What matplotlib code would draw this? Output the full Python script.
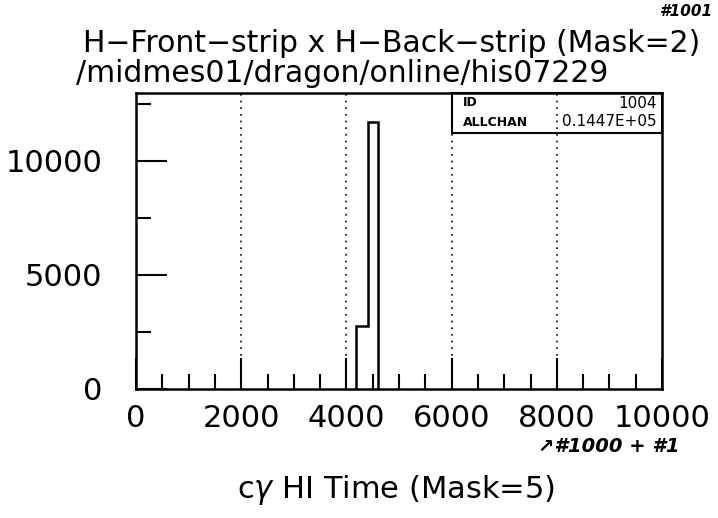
import matplotlib
matplotlib.use("Agg")
import matplotlib.pyplot as plt
from matplotlib.patches import Rectangle
from matplotlib.ticker import MultipleLocator

plt.rcParams.update({"font.family": "DejaVu Sans", "font.size": 22})

# histogram contents
bin_edges = [4180, 4410, 4600]
counts = [2750, 11700]
x_ticks = [0, 2000, 4000, 6000, 8000, 10000]
y_ticks = [0, 5000, 10000]
grid_x = [2000, 4000, 6000, 8000]
stats_rows = [("ID", "1004"), ("ALLCHAN", "0.1447E+05")]

fig = plt.figure(figsize=(7.18, 5.18), dpi=100)
ax = fig.add_axes([136 / 718, 1 - 389 / 518, 526 / 718, 296 / 518])

ax.stairs(counts, bin_edges, color="black", lw=1.8)
for gx in grid_x:
    ax.axvline(gx, color="black", lw=1.2, ls=(0, (1, 3)), zorder=0)

ax.set_xlim(0, 10000)
ax.set_ylim(0, 12970)
ax.set_xticks(x_ticks)
ax.set_yticks(y_ticks)
ax.xaxis.set_minor_locator(MultipleLocator(500))
ax.yaxis.set_minor_locator(MultipleLocator(2500))
ax.tick_params(which="both", direction="in", top=False, right=False, width=1.5)
ax.tick_params(which="major", length=22)
ax.tick_params(which="minor", length=11)
ax.tick_params(axis="y", which="major", pad=24)
ax.tick_params(axis="x", which="major", pad=11)
for sp in ax.spines.values():
    sp.set_linewidth(1.8)

# stats box, upper right
x0, y0 = (452 - 136) / 526, 1 - (133 - 93) / 296
ax.add_patch(Rectangle((x0, y0), 1 - x0, 1 - y0, transform=ax.transAxes,
                       fill=False, lw=1.5, clip_on=False))
for i, (k, v) in enumerate(stats_rows):
    yy = 1 - (10 + 19 * i) / 296
    ax.text(x0 + 0.02, yy, k, transform=ax.transAxes, fontsize=9,
            fontweight="bold", va="center", ha="left")
    ax.text(0.99, yy, v, transform=ax.transAxes, fontsize=11,
            va="center", ha="right")

fig.text(392 / 718, 1 - 52 / 518, "H\u2212Front\u2212strip x H\u2212Back\u2212strip (Mask=2)",
         ha="center", va="baseline", fontsize=21.5)
fig.text(76 / 718, 1 - 82 / 518, "/midmes01/dragon/online/his07229",
         ha="left", va="baseline", fontsize=21.5)
fig.text(396 / 718, 1 - 490 / 518, "c$\\gamma$ HI Time (Mask=5)",
         ha="center", va="center", fontsize=22)

# handwritten notes on the printout
fig.text(686 / 718, 1 - 11 / 518, "#1001", ha="center", va="center",
         fontsize=11, fontweight="bold", style="italic")
fig.text(538 / 718, 1 - 446 / 518, "\u2197#1000 + #1", ha="left", va="center",
         fontsize=14, fontweight="bold", style="italic")

fig.savefig("out.png", dpi=100)
